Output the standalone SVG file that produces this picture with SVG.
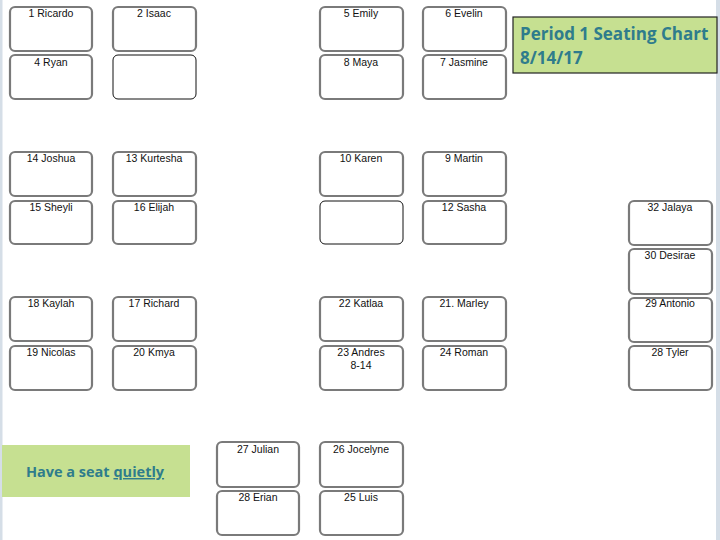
<svg xmlns="http://www.w3.org/2000/svg" width="720" height="540" viewBox="0 0 720 540">
<style>
.desk{fill:#fff;stroke:#7a7a7a;stroke-width:2.2}
.empty{fill:#fff;stroke:#111;stroke-width:1}
.lbl{font-family:"Liberation Sans",Arial,sans-serif;font-size:10.5px;fill:#111;text-anchor:middle}
.note{fill:#c6e091}
.ttl{font-family:"Open Sans","Liberation Sans",sans-serif;font-weight:bold;fill:#2f7c8c}
</style>
<rect x="0" y="0" width="720" height="540" fill="#fff"/>
<rect x="0" y="0" width="2.5" height="540" fill="#d5dee7"/>
<rect x="716" y="0" width="4" height="540" fill="#d5dee7"/>
<g id="desk-1"><rect class="desk" x="10" y="7" width="82" height="44" rx="5"/><text class="lbl" x="51" y="17">1 Ricardo</text></g>
<g id="desk-2"><rect class="desk" x="113" y="7" width="83" height="44" rx="5"/><text class="lbl" x="154" y="17">2 Isaac</text></g>
<g id="desk-4"><rect class="desk" x="10" y="55" width="82" height="44" rx="5"/><text class="lbl" x="51" y="66">4 Ryan</text></g>
<g id="desk-blank-1"><rect class="empty" x="113" y="55" width="83" height="44" rx="5"/></g>
<g id="desk-5"><rect class="desk" x="320" y="7" width="83" height="44" rx="5"/><text class="lbl" x="361" y="17">5 Emily</text></g>
<g id="desk-6"><rect class="desk" x="423" y="7" width="83" height="44" rx="5"/><text class="lbl" x="464" y="17">6 Evelin</text></g>
<g id="desk-8"><rect class="desk" x="320" y="55" width="83" height="44" rx="5"/><text class="lbl" x="361" y="66">8 Maya</text></g>
<g id="desk-7"><rect class="desk" x="423" y="55" width="83" height="44" rx="5"/><text class="lbl" x="464" y="66">7 Jasmine</text></g>
<g id="title"><rect x="513" y="17" width="204" height="56" fill="#c6e091" stroke="#222" stroke-width="1.2"/><text class="ttl" x="520" y="40" font-size="17">Period 1 Seating Chart</text><text class="ttl" x="520" y="64" font-size="17">8/14/17</text></g>
<g id="desk-14"><rect class="desk" x="10" y="152" width="82" height="44" rx="5"/><text class="lbl" x="51" y="162">14 Joshua</text></g>
<g id="desk-13"><rect class="desk" x="113" y="152" width="83" height="44" rx="5"/><text class="lbl" x="154" y="162">13 Kurtesha</text></g>
<g id="desk-15"><rect class="desk" x="10" y="201" width="82" height="43" rx="5"/><text class="lbl" x="51" y="211">15 Sheyli</text></g>
<g id="desk-16"><rect class="desk" x="113" y="201" width="83" height="43" rx="5"/><text class="lbl" x="154" y="211">16 Elijah</text></g>
<g id="desk-10"><rect class="desk" x="320" y="152" width="83" height="44" rx="5"/><text class="lbl" x="361" y="162">10 Karen</text></g>
<g id="desk-9"><rect class="desk" x="423" y="152" width="83" height="44" rx="5"/><text class="lbl" x="464" y="162">9 Martin</text></g>
<g id="desk-blank-2"><rect class="empty" x="320" y="201" width="83" height="43" rx="5"/></g>
<g id="desk-12"><rect class="desk" x="423" y="201" width="83" height="43" rx="5"/><text class="lbl" x="464" y="211">12 Sasha</text></g>
<g id="desk-32"><rect class="desk" x="629" y="201" width="83" height="44" rx="5"/><text class="lbl" x="670" y="211">32 Jalaya</text></g>
<g id="desk-30"><rect class="desk" x="629" y="249" width="83" height="45" rx="5"/><text class="lbl" x="670" y="259">30 Desirae</text></g>
<g id="desk-29"><rect class="desk" x="629" y="298" width="83" height="44" rx="5"/><text class="lbl" x="670" y="307">29 Antonio</text></g>
<g id="desk-28t"><rect class="desk" x="629" y="346" width="83" height="44" rx="5"/><text class="lbl" x="670" y="356">28 Tyler</text></g>
<g id="desk-18"><rect class="desk" x="10" y="297" width="82" height="44" rx="5"/><text class="lbl" x="51" y="307">18 Kaylah</text></g>
<g id="desk-17"><rect class="desk" x="113" y="297" width="83" height="44" rx="5"/><text class="lbl" x="154" y="307">17 Richard</text></g>
<g id="desk-19"><rect class="desk" x="10" y="346" width="82" height="44" rx="5"/><text class="lbl" x="51" y="356">19 Nicolas</text></g>
<g id="desk-20"><rect class="desk" x="113" y="346" width="83" height="44" rx="5"/><text class="lbl" x="154" y="356">20 Kmya</text></g>
<g id="desk-22"><rect class="desk" x="320" y="297" width="83" height="44" rx="5"/><text class="lbl" x="361" y="307">22 Katlaa</text></g>
<g id="desk-21"><rect class="desk" x="423" y="297" width="83" height="44" rx="5"/><text class="lbl" x="464" y="307">21. Marley</text></g>
<g id="desk-23"><rect class="desk" x="320" y="346" width="83" height="44" rx="5"/><text class="lbl" x="361" y="356">23 Andres</text><text class="lbl" x="361" y="369">8-14</text></g>
<g id="desk-24"><rect class="desk" x="423" y="346" width="83" height="44" rx="5"/><text class="lbl" x="464" y="356">24 Roman</text></g>
<g id="note"><rect class="note" x="2" y="445" width="188" height="52"/><text class="ttl" x="95" y="477" font-size="14.5" text-anchor="middle">Have a seat <tspan text-decoration="underline">quietly</tspan></text></g>
<g id="desk-27"><rect class="desk" x="217" y="442" width="82" height="45" rx="5"/><text class="lbl" x="258" y="453">27 Julian</text></g>
<g id="desk-26"><rect class="desk" x="320" y="442" width="83" height="45" rx="5"/><text class="lbl" x="361" y="453">26 Jocelyne</text></g>
<g id="desk-28e"><rect class="desk" x="217" y="491" width="82" height="44" rx="5"/><text class="lbl" x="258" y="501">28 Erian</text></g>
<g id="desk-25"><rect class="desk" x="320" y="491" width="83" height="44" rx="5"/><text class="lbl" x="361" y="501">25 Luis</text></g>
<g id="connectors"/>
</svg>
